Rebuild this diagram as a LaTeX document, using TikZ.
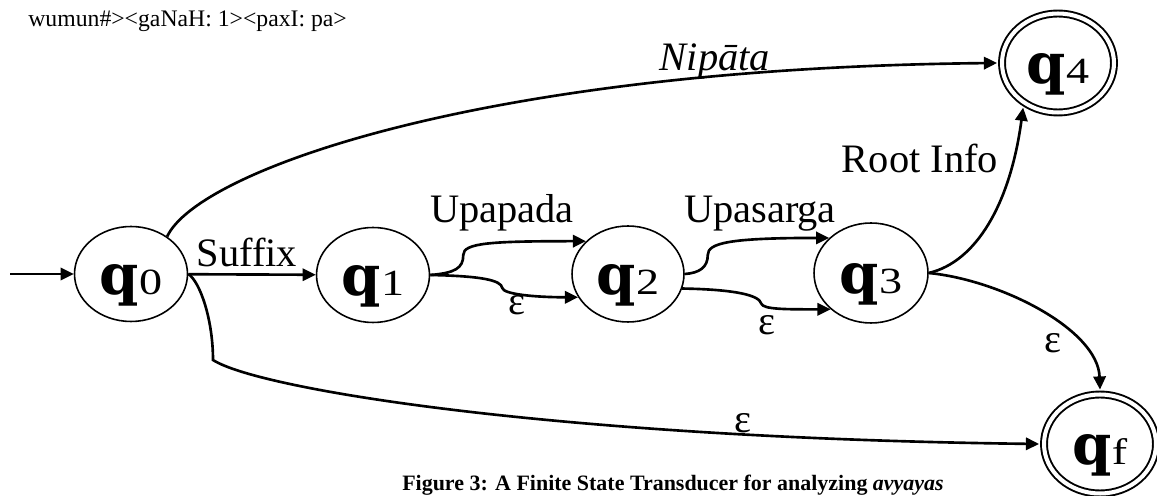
\documentclass[tikz,border=0pt]{standalone}
\usepackage{fontspec}
\setmainfont{Liberation Serif}
\newfontfamily\qfont{DejaVu Serif}
\usetikzlibrary{arrows.meta,shapes.geometric}
\newcommand\qlab[1]{{\qfont\fontsize{32}{32}\selectfont\bfseries q}%
  {\fontsize{21}{21}\selectfont\scalebox{1.25}[1]{#1}}}
\tikzset{
  >={Triangle[length=7.5pt,width=7pt]},
  stnode/.style={ellipse,draw,line width=0.9pt,minimum width=2.26cm,minimum height=1.9cm,
    inner sep=0pt,text height=27pt,text depth=4pt},
  final/.style={stnode,double,line width=1.1pt,double distance=2.3pt,outer sep=2.8pt,
    minimum width=2.24cm,minimum height=1.98cm},
  flow/.style={->,line width=1.5pt},
  tag/.style={font=\fontsize{23}{23}\selectfont,anchor=base,inner sep=0pt},
}
\begin{document}
\begin{tikzpicture}[x=0.02cm,y=-0.02cm]
  \useasboundingbox (0,0) rectangle (1157,496);
  % states
  \node[stnode] (q0) at (131,274) {\qlab{0}};
  \node[stnode] (q1) at (373,275) {\qlab{1}};
  \node[stnode,minimum width=2.24cm,minimum height=1.92cm] (q2) at (628,274) {\qlab{2}};
  \node[stnode,minimum width=2.28cm,minimum height=2cm] (q3) at (871,273) {\qlab{3}};
  \node[final] (q4) at (1058,63) {\qlab{4}};
  \node[final] (qf) at (1100,444) {\qlab{f}};
  % transitions
  \coordinate (init) at (10,274);
  \coordinate (bend) at (213,360);
  \draw[flow] (init) -- (q0);
  \draw[flow] (q0) -- (q1);
  \draw[flow] (q0.46) .. controls +(30,-65) and +(-518,5) .. (q4.west);
  \draw[flow] (q0.east) .. controls +(12,8) and +(0,-40) .. (bend)
    .. controls +(47,30) and +(-479,-6) .. (qf.west);
  \draw[flow] (q1.east) .. controls +(25,-2) and +(0,13) .. ++(33,-20)
    .. controls +(0,-12) and +(-96,0) .. (q2.142);
  \draw[flow] (q1.east) .. controls +(50,1) and +(-1,-8) .. ++(72,13)
    .. controls +(1,6) and +(-45,0) .. (q2.205);
  \draw[flow] (q2.east) .. controls +(15,-1) and +(0,12) .. ++(23,-19)
    .. controls +(0,-12) and +(-100,0) .. (q3.140);
  \draw[flow] (q2.-15) .. controls +(55,1) and +(-2,-8) .. ++(79,15)
    .. controls +(2,6) and +(-45,0) .. (q3.222);
  \draw[flow] (q3.east) .. controls +(47,-11) and +(-13,97) .. (q4.232);
  \draw[flow] (q3.east) .. controls +(72,7) and +(-2,-60) .. (qf.north);
  % labels
  \node[tag] (suffix) at (247,267) {Suffix};
  \node[tag] (upapada) at (502,223) {Upapada};
  \node[tag] (upasarga) at (760,223) {Upasarga};
  \node[tag,font=\fontsize{23}{23}\selectfont\itshape] (nipata) at (715,71) {Nipāta};
  \node[tag] (root) at (920,173) {Root Info};
  \node[tag] (eps1) at (517,315) {ε};
  \node[tag] (eps2) at (767,335) {ε};
  \node[tag] (eps3) at (1053,353) {ε};
  \node[tag] (eps4) at (743,433) {ε};
  \node[font=\fontsize{13.5}{16}\selectfont,anchor=base west,inner sep=0pt] (code) at (28,27)
    {wumun\#><gaNaH: 1><paxI: pa>};
  \node[font=\fontsize{12.5}{14}\selectfont\bfseries,anchor=base,inner sep=0pt] (caption) at (673,491)
    {Figure 3: A Finite State Transducer for analyzing \textit{avyayas}};
\end{tikzpicture}
\end{document}
